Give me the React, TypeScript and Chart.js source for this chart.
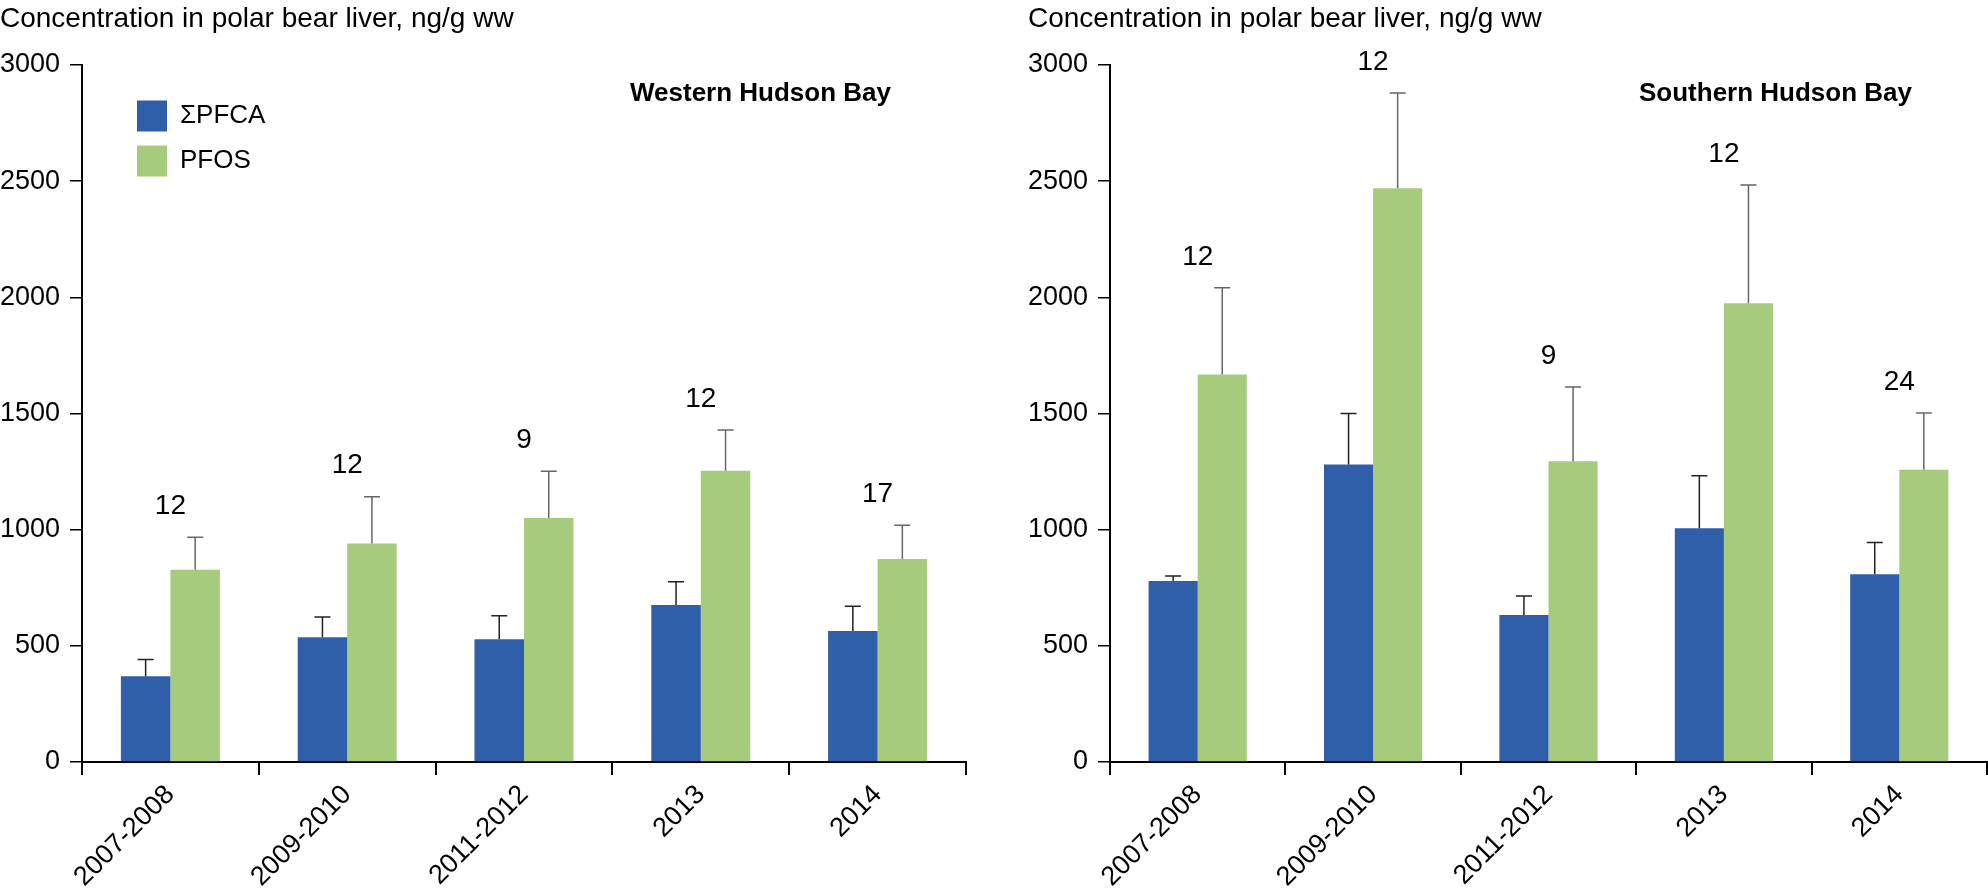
import React, { useEffect, useRef } from "react";
import { Chart, registerables } from "chart.js";

Chart.register(...registerables);

// categories and series
const categories = ["2007-2008", "2009-2010", "2011-2012", "2013", "2014"];
const seriesNames = ["ΣPFCA", "PFOS"];

// Western Hudson Bay
const westPfca = [369, 537, 528, 676, 564];
const westPfcaErr = [441, 624, 630, 776, 670];
const westPfos = [828, 940, 1050, 1254, 874];
const westPfosErr = [967, 1142, 1251, 1429, 1019];
const westN = [12, 12, 9, 12, 17];

// Southern Hudson Bay
const southPfca = [779, 1280, 633, 1006, 808];
const southPfcaErr = [801, 1500, 715, 1232, 945];
const southPfos = [1668, 2470, 1294, 1975, 1258];
const southPfosErr = [2041, 2880, 1614, 2484, 1502];
const southN = [12, 12, 9, 12, 24];

const yMin = 0;
const yMax = 3000;
const yStep = 500;

const yTitle = "Concentration in polar bear liver, ng/g ww";
const BLUE = "#2f5fa8";
const GREEN = "#a6cb7c";
const FONT = "'Liberation Sans', Arial, sans-serif";

Chart.defaults.font.family = FONT;
Chart.defaults.color = "#000";

interface PanelProps {
  region: string;
  pfca: number[];
  pfcaErr: number[];
  pfos: number[];
  pfosErr: number[];
  n: number[];
  showLegend: boolean;
  rightPad: number;
}

function Panel({ region, pfca, pfcaErr, pfos, pfosErr, n, showLegend, rightPad }: PanelProps) {
  const canvasRef = useRef<HTMLCanvasElement | null>(null);

  useEffect(() => {
    const ctx = canvasRef.current?.getContext("2d");
    if (!ctx) return;

    const errs = [pfcaErr, pfosErr];
    const errColors = ["#222", "#666"];

    // error bars, n labels, title, legend
    const overlay = {
      id: "overlay",
      afterDatasetsDraw: (chart: any) => {
        const c = chart.ctx;
        const area = chart.chartArea;
        const xs = chart.scales.x;
        const ys = chart.scales.y;
        c.save();

        errs.forEach((err, di) => {
          const meta = chart.getDatasetMeta(di);
          meta.data.forEach((bar: any, i: number) => {
            const top = ys.getPixelForValue(err[i]);
            c.strokeStyle = errColors[di];
            c.lineWidth = 1.5;
            c.beginPath();
            c.moveTo(bar.x, bar.y);
            c.lineTo(bar.x, top);
            c.moveTo(bar.x - 8, top);
            c.lineTo(bar.x + 8, top);
            c.stroke();
          });
        });

        c.fillStyle = "#000";
        c.font = `28px ${FONT}`;
        c.textAlign = "center";
        c.textBaseline = "middle";
        n.forEach((v, i) => {
          const x = xs.getPixelForValue(i);
          const y = ys.getPixelForValue(pfosErr[i]) - 31;
          c.fillText(String(v), x, y);
        });

        c.font = `28px ${FONT}`;
        c.textAlign = "left";
        c.fillText(yTitle, area.left - 82, 19);

        c.font = `bold 26px ${FONT}`;
        c.textAlign = "right";
        c.fillText(region, area.right - 75, area.top + 29);

        if (showLegend) {
          const colors = [BLUE, GREEN];
          c.font = `26px ${FONT}`;
          c.textAlign = "left";
          seriesNames.forEach((name, i) => {
            const cy = area.top + 51 + i * 45;
            c.fillStyle = colors[i];
            c.fillRect(area.left + 55, cy - 15.5, 30, 31);
            c.fillStyle = "#000";
            c.fillText(name, area.left + 98, cy);
          });
        }
        c.restore();
      },
    };

    const chart = new Chart(ctx, {
      type: "bar",
      data: {
        labels: categories,
        datasets: [
          { label: seriesNames[0], data: pfca, backgroundColor: BLUE },
          { label: seriesNames[1], data: pfos, backgroundColor: GREEN },
        ],
      },
      options: {
        animation: false,
        responsive: true,
        maintainAspectRatio: false,
        layout: { padding: { top: 65, right: rightPad, left: 0, bottom: 0 } },
        datasets: { bar: { categoryPercentage: 0.56, barPercentage: 1 } },
        plugins: { legend: { display: false }, tooltip: { enabled: false } },
        scales: {
          x: {
            afterFit: (s: any) => {
              s.height = 128;
            },
            border: { display: true, color: "#000", width: 2 },
            grid: {
              display: true,
              drawOnChartArea: false,
              drawTicks: true,
              tickLength: 13,
              color: "#000",
              lineWidth: 2,
              offset: true,
            },
            ticks: {
              maxRotation: 45,
              minRotation: 45,
              padding: 4,
              font: { size: 27 },
              color: "#000",
            },
          },
          y: {
            min: yMin,
            max: yMax,
            afterFit: (s: any) => {
              s.width = 82;
            },
            border: { display: true, color: "#000", width: 2 },
            grid: {
              display: true,
              drawOnChartArea: false,
              drawTicks: true,
              tickLength: 12,
              color: "#000",
              lineWidth: 1.5,
            },
            ticks: {
              stepSize: yStep,
              padding: 10,
              font: { size: 27 },
              color: "#000",
              callback: (v: any) => String(v),
            },
          },
        },
      },
      plugins: [overlay],
    });

    return () => {
      chart.destroy();
    };
  }, [region, pfca, pfcaErr, pfos, pfosErr, n, showLegend, rightPad]);

  return <canvas ref={canvasRef} role="img" aria-label={`${region} bar chart`} />;
}

export default function App() {
  return (
    <div style={{ position: "fixed", left: 0, top: 0, width: 1988, height: 890, background: "#fff" }}>
      <div style={{ position: "absolute", left: 0, top: 0, width: 1028, height: 890 }}>
        <Panel
          region="Western Hudson Bay"
          pfca={westPfca}
          pfcaErr={westPfcaErr}
          pfos={westPfos}
          pfosErr={westPfosErr}
          n={westN}
          showLegend={true}
          rightPad={62}
        />
      </div>
      <div style={{ position: "absolute", left: 1028, top: 0, width: 960, height: 890 }}>
        <Panel
          region="Southern Hudson Bay"
          pfca={southPfca}
          pfcaErr={southPfcaErr}
          pfos={southPfos}
          pfosErr={southPfosErr}
          n={southN}
          showLegend={false}
          rightPad={1}
        />
      </div>
    </div>
  );
}
